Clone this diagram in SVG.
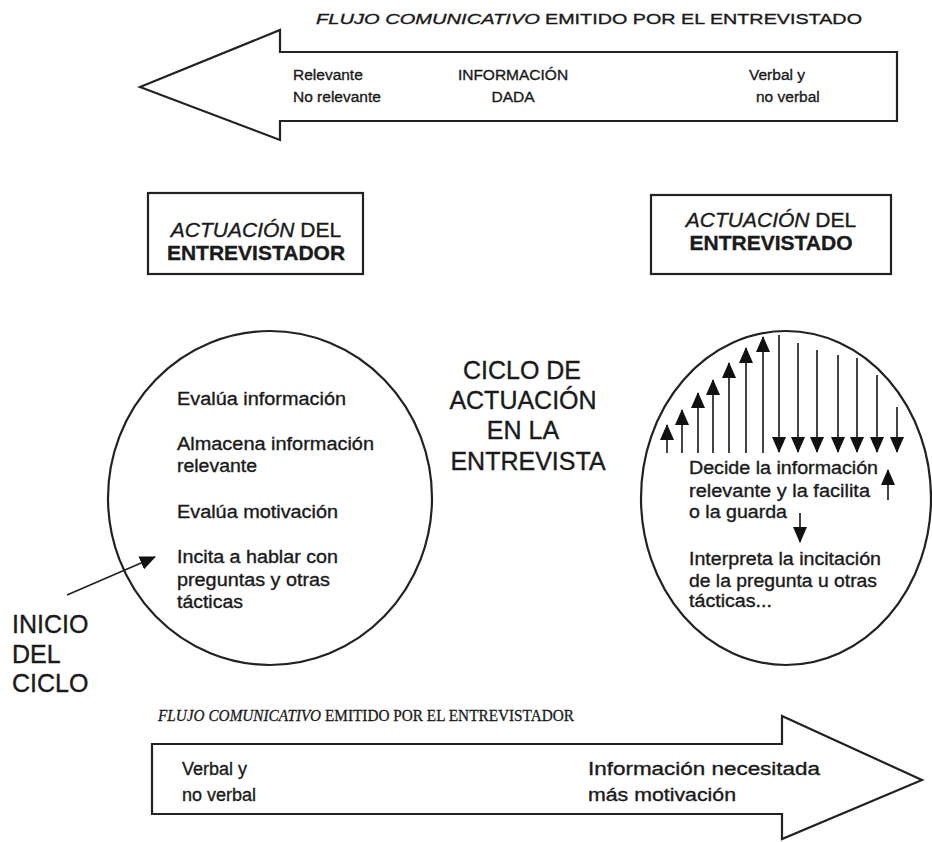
<svg xmlns="http://www.w3.org/2000/svg" width="932" height="842" viewBox="0 0 932 842">
<style>
.sans{font-family:"Liberation Sans",Arial,sans-serif;fill:#1a1a1a;stroke:#1a1a1a;stroke-width:0.35}
.serif{font-family:"Liberation Serif","Times New Roman",serif;fill:#1a1a1a;stroke:#1a1a1a;stroke-width:0.3}
.it{font-style:italic}
.b{font-weight:bold}
.shape{fill:#fff;stroke:#222;stroke-width:2.2}
.ln{stroke:#222;stroke-width:1.7;fill:none}
.t15{font-size:15.5px}
.t18{font-size:18px}
.t21{font-size:21px}
.t25{font-size:25px}
</style>
<defs>
<marker id="ah" viewBox="0 0 16 14" refX="15" refY="7" markerWidth="16" markerHeight="14" markerUnits="userSpaceOnUse" orient="auto">
<path d="M0,0 L16,7 L0,14 Z" fill="#111"/>
</marker>
</defs>
<rect width="932" height="842" fill="#fff"/>

<g id="flujo-entrevistado">
<text class="sans t15 it" x="316" y="24" textLength="224" lengthAdjust="spacingAndGlyphs">FLUJO COMUNICATIVO</text>
<text class="sans t15" x="545" y="24" textLength="317" lengthAdjust="spacingAndGlyphs">EMITIDO POR EL ENTREVISTADO</text>
<path class="shape" d="M140,87 L280,30 L280,52 L897,52 L897,121 L280,121 L280,140 Z"/>
<text class="sans t15" x="293" y="80">Relevante</text>
<text class="sans t15" x="293" y="102">No relevante</text>
<text class="sans t15" x="513" y="80" text-anchor="middle">INFORMACIÓN</text>
<text class="sans t15" x="513" y="102" text-anchor="middle">DADA</text>
<text class="sans t15" x="749" y="80">Verbal y</text>
<text class="sans t15" x="756" y="102">no verbal</text>
</g>

<g id="box-entrevistador">
<rect class="shape" x="148" y="193" width="215" height="81"/>
<text class="sans t21" x="256" y="237" text-anchor="middle"><tspan class="it">ACTUACIÓN</tspan> DEL</text>
<text class="sans t21 b" x="256" y="260" text-anchor="middle">ENTREVISTADOR</text>
</g>

<g id="box-entrevistado">
<rect class="shape" x="651" y="195" width="240" height="79"/>
<text class="sans t21" x="771" y="227" text-anchor="middle"><tspan class="it">ACTUACIÓN</tspan> DEL</text>
<text class="sans t21 b" x="771" y="250" text-anchor="middle">ENTREVISTADO</text>
</g>

<g id="circulo-entrevistador">
<ellipse class="shape" cx="270" cy="498" rx="162" ry="167"/>
<text class="sans t18" x="177" y="405" textLength="169" lengthAdjust="spacingAndGlyphs">Evalúa información</text>
<text class="sans t18" x="177" y="450" textLength="197" lengthAdjust="spacingAndGlyphs">Almacena información</text>
<text class="sans t18" x="177" y="472" textLength="80" lengthAdjust="spacingAndGlyphs">relevante</text>
<text class="sans t18" x="177" y="518" textLength="161" lengthAdjust="spacingAndGlyphs">Evalúa motivación</text>
<text class="sans t18" x="177" y="563" textLength="161" lengthAdjust="spacingAndGlyphs">Incita a hablar con</text>
<text class="sans t18" x="177" y="586" textLength="153" lengthAdjust="spacingAndGlyphs">preguntas y otras</text>
<text class="sans t18" x="177" y="608" textLength="66" lengthAdjust="spacingAndGlyphs">tácticas</text>
</g>

<g id="ciclo">
<text class="sans t25" x="522" y="379" text-anchor="middle">CICLO DE</text>
<text class="sans t25" x="523" y="409" text-anchor="middle">ACTUACIÓN</text>
<text class="sans t25" x="523" y="439" text-anchor="middle">EN LA</text>
<text class="sans t25" x="528" y="470" text-anchor="middle">ENTREVISTA</text>
</g>

<g id="circulo-entrevistado">
<ellipse class="shape" cx="786" cy="498" rx="145" ry="167"/>
<text class="sans t18" x="689" y="474" textLength="189" lengthAdjust="spacingAndGlyphs" stroke-width="0.6">Decide la información</text>
<text class="sans t18" x="689" y="497" textLength="181" lengthAdjust="spacingAndGlyphs" stroke-width="0.6">relevante y la facilita</text>
<text class="sans t18" x="689" y="518" textLength="98" lengthAdjust="spacingAndGlyphs" stroke-width="0.6">o la guarda</text>
<text class="sans t18" x="689" y="565" textLength="192" lengthAdjust="spacingAndGlyphs" stroke-width="0.6">Interpreta la incitación</text>
<text class="sans t18" x="689" y="587" textLength="188" lengthAdjust="spacingAndGlyphs" stroke-width="0.6">de la pregunta u otras</text>
<text class="sans t18" x="689" y="607" textLength="83" lengthAdjust="spacingAndGlyphs" stroke-width="0.6">tácticas...</text>
</g>

<g id="inicio">
<text class="sans t25" x="12" y="633">INICIO</text>
<text class="sans t25" x="12" y="663">DEL</text>
<text class="sans t25" x="12" y="692">CICLO</text>
</g>

<g id="flujo-entrevistador">
<text class="serif it" font-size="17" x="158" y="721" textLength="163" lengthAdjust="spacingAndGlyphs">FLUJO COMUNICATIVO</text>
<text class="serif" font-size="17" x="325" y="721" textLength="249" lengthAdjust="spacingAndGlyphs">EMITIDO POR EL ENTREVISTADOR</text>
<path class="shape" d="M152,744 L782,744 L782,716 L922,780 L782,839 L782,814 L152,814 Z"/>
<text class="sans t18" x="182" y="775">Verbal y</text>
<text class="sans t18" x="182" y="801">no verbal</text>
<text class="sans t18" x="588" y="775" textLength="232" lengthAdjust="spacingAndGlyphs">Información necesitada</text>
<text class="sans t18" x="588" y="801" textLength="148" lengthAdjust="spacingAndGlyphs">más motivación</text>
</g>

<g id="connectors">
<line class="ln" x1="67" y1="595" x2="155" y2="557" marker-end="url(#ah)"/>
<g class="ln" marker-end="url(#ah)">
<line x1="667" y1="453" x2="667" y2="425"/>
<line x1="682" y1="453" x2="682" y2="410"/>
<line x1="698" y1="453" x2="698" y2="393"/>
<line x1="713" y1="453" x2="713" y2="380"/>
<line x1="729" y1="453" x2="729" y2="363"/>
<line x1="746" y1="453" x2="746" y2="348"/>
<line x1="763" y1="453" x2="763" y2="337"/>
<line x1="779" y1="335" x2="779" y2="452"/>
<line x1="798" y1="343" x2="798" y2="452"/>
<line x1="817" y1="350" x2="817" y2="452"/>
<line x1="838" y1="355" x2="838" y2="452"/>
<line x1="857" y1="358" x2="857" y2="452"/>
<line x1="877" y1="375" x2="877" y2="452"/>
<line x1="897" y1="407" x2="897" y2="452"/>
<line x1="888" y1="500" x2="888" y2="470"/>
<line x1="800" y1="513" x2="800" y2="542"/>
</g>
</g>
</svg>
